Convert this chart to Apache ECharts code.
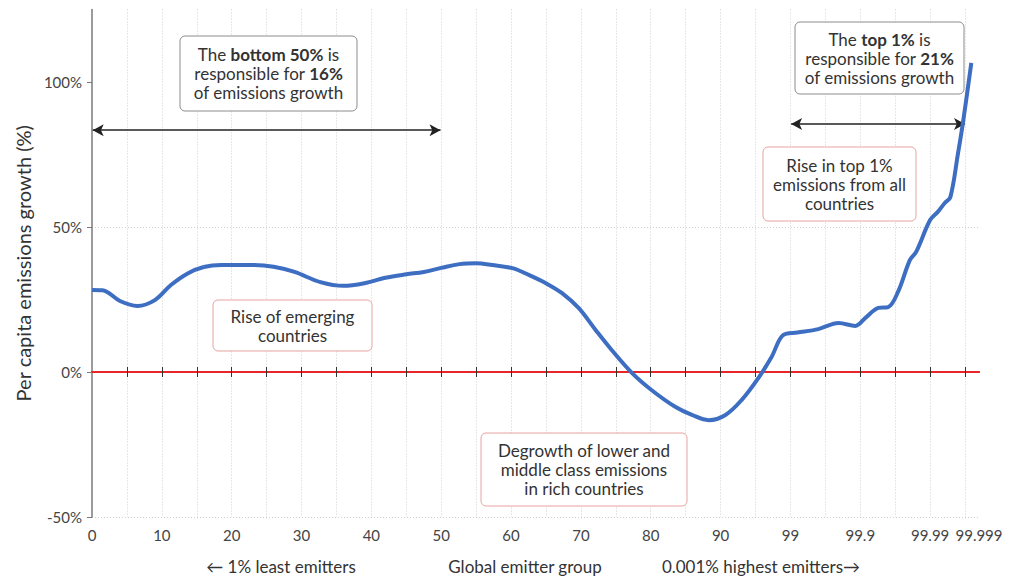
<!DOCTYPE html>
<html>
<head>
<meta charset="utf-8">
<script src="https://cdn.jsdelivr.net/npm/echarts@6/dist/echarts.min.js"></script>
<style>
html,body{margin:0;padding:0;background:#fff;}
#chart{width:1025px;height:576px;}
</style>
</head>
<body>
<div id="chart"></div>
<script>
// Emitter group position (percentile index; top 1% expanded) and per capita emissions growth (%)
const groups = [0, 1.5, 4, 6.5, 9, 11.3, 13.7, 16, 18.5, 23, 26, 29, 32.7, 36, 39, 42, 45, 47.5, 50, 52.6, 55, 57.3, 60.2, 62.6, 65, 67.3, 69.7, 72.1, 74.4, 77.3, 80.1, 83.5, 85.9, 88.3, 90.7, 93, 95.4, 97.3, 99, 101, 104, 106.9, 109.3, 110.7, 112.6, 114, 115.4, 117.1, 118, 120, 121.1, 122.1, 122.9, 124, 124.7, 125.9];
const growth = [28.3, 28.2, 24.5, 22.8, 24.8, 30, 34, 36.2, 36.9, 36.9, 36.3, 34.5, 31, 29.7, 30.6, 32.5, 33.7, 34.5, 35.9, 37.2, 37.5, 36.9, 35.8, 33.4, 30.6, 27.2, 22, 14.5, 7.6, -0.3, -6.2, -12, -14.8, -16.6, -14.8, -9.7, -2.1, 5.2, 12.8, 13.6, 14.8, 16.9, 15.9, 18.6, 22.1, 22.4, 27.6, 38.6, 41.4, 52.4, 55.2, 58.3, 60.3, 75.5, 85.9, 106.6];

const xLabelValues = [0, 10, 20, 30, 40, 50, 60, 70, 80, 90, 100, 110, 120, 127];
const xLabels = ['0', '10', '20', '30', '40', '50', '60', '70', '80', '90', '99', '99.9', '99.99', '99.999'];
const xGridValues = [5, 10, 15, 20, 25, 30, 35, 40, 45, 50, 55, 60, 65, 70, 75, 80, 85, 90, 95, 100, 105, 110, 115, 120, 125];
const yTickValues = [-50, 0, 50, 100];

// Double-arrow brackets: [from group, to group, level %]
const bottomBracket = [0.1, 49.9, 83.4];
const topBracket = [100.1, 125, 85.5];

const FONT = 'Lato, "Open Sans", sans-serif';
const TXT = '#333333';

const chart = echarts.init(document.getElementById('chart'), null, {renderer: 'svg'});

function box(x, y, w, h, border, lines) {
  return {
    type: 'group',
    children: [
      {type: 'rect', shape: {x: x, y: y, width: w, height: h, r: 5},
       style: {fill: '#ffffff', stroke: border, lineWidth: 1}, z: 100},
      {type: 'text', z: 101,
       style: {x: x + w / 2, y: y + h / 2, text: lines.join('\n'), align: 'center', verticalAlign: 'middle',
         fill: TXT, fontFamily: FONT, fontSize: 17, lineHeight: 19,
         rich: {
           n: {fill: TXT, fontFamily: FONT, fontSize: 17, lineHeight: 19},
           b: {fill: TXT, fontFamily: FONT, fontSize: 17, lineHeight: 19, fontWeight: 'bold'}
         }}}
    ]
  };
}

const xMax = 127;
const option = {
  backgroundColor: '#ffffff',
  animation: false,
  grid: {left: 92, right: 46, top: 9.5, bottom: 59},
  xAxis: [
    {
      type: 'value', min: 0, max: xMax, interval: 5, position: 'bottom',
      axisLine: {show: false, onZero: false},
      axisTick: {show: false},
      axisLabel: {
        customValues: xLabelValues, margin: 10, color: '#444', fontSize: 15, fontFamily: FONT,
        formatter: function (v) { const k = xLabelValues.indexOf(v); return k >= 0 ? xLabels[k] : ''; }
      },
      splitLine: {show: true, showMinLine: false, showMaxLine: false, lineStyle: {color: '#cfcfcf', width: 1, type: [1, 2]}}
    },
    {
      type: 'value', min: 0, max: xMax, interval: 5, position: 'bottom',
      axisLine: {show: true, onZero: true, onZeroAxisIndex: 0, lineStyle: {color: '#e8262a', width: 2}},
      axisTick: {show: true, customValues: xGridValues, length: 5, lineStyle: {color: '#333', width: 1}},
      axisLabel: {show: false},
      splitLine: {show: false}
    },
    {
      type: 'value', min: 0, max: xMax, interval: 5, position: 'top',
      axisLine: {show: true, onZero: true, onZeroAxisIndex: 0, lineStyle: {color: '#e8262a', width: 2}},
      axisTick: {show: true, customValues: xGridValues, length: 5, lineStyle: {color: '#333', width: 1}},
      axisLabel: {show: false},
      splitLine: {show: false}
    }
  ],
  yAxis: {
    type: 'value', min: -50, max: 125, interval: 50,
    name: 'Per capita emissions growth (%)', nameLocation: 'middle', nameGap: 59,
    nameTextStyle: {fontSize: 20, color: '#333', fontFamily: FONT},
    axisLine: {show: true, onZero: false, lineStyle: {color: '#7a7a7a', width: 1.5}},
    axisTick: {show: true, customValues: yTickValues, length: 5, lineStyle: {color: '#7a7a7a'}},
    axisLabel: {customValues: yTickValues, color: '#444', fontSize: 15, fontFamily: FONT, margin: 10,
      formatter: function (v) { return v + '%'; }},
    splitLine: {show: true, showMaxLine: false, lineStyle: {color: '#cfcfcf', width: 1, type: [1, 2]}}
  },
  series: [{
    type: 'line',
    xAxisIndex: 0,
    data: groups.map(function (g, k) { return [g, growth[k]]; }),
    smooth: 0.35,
    showSymbol: false,
    lineStyle: {color: '#3d6ec2', width: 4},
    z: 5,
    markLine: {
      silent: true, symbol: ['arrow', 'arrow'], symbolSize: [9, 11], label: {show: false},
      lineStyle: {color: '#222', width: 1.5, type: 'solid'},
      data: [
        [{coord: [bottomBracket[0], bottomBracket[2]]}, {coord: [bottomBracket[1], bottomBracket[2]]}],
        [{coord: [topBracket[0], topBracket[2]]}, {coord: [topBracket[1], topBracket[2]]}]
      ]
    }
  }],
  graphic: [
    box(180, 36, 177, 75, '#8c8c8c', ['{n|The }{b|bottom 50%}{n| is}', '{n|responsible for }{b|16%}', '{n|of emissions growth}']),
    box(795, 22, 169, 72, '#8c8c8c', ['{n|The }{b|top 1%}{n| is}', '{n|responsible for }{b|21%}', '{n|of emissions growth}']),
    box(763, 147, 153, 74, '#e9a3a3', ['Rise in top 1%', 'emissions from all', 'countries']),
    box(213, 300, 159, 51, '#e9a3a3', ['Rise of emerging', 'countries']),
    box(481, 433, 206, 73, '#e9a3a3', ['Degrowth of lower and', 'middle class emissions', 'in rich countries']),
    {type: 'text', style: {x: 281, y: 566, text: '\u2190 1% least emitters', align: 'center', verticalAlign: 'middle', fill: TXT, fontFamily: FONT, fontSize: 17}},
    {type: 'text', style: {x: 525, y: 566, text: 'Global emitter group', align: 'center', verticalAlign: 'middle', fill: TXT, fontFamily: FONT, fontSize: 17}},
    {type: 'text', style: {x: 761, y: 566, text: '0.001% highest emitters\u2192', align: 'center', verticalAlign: 'middle', fill: TXT, fontFamily: FONT, fontSize: 17}}
  ]
};
chart.setOption(option);
</script>
</body>
</html>
